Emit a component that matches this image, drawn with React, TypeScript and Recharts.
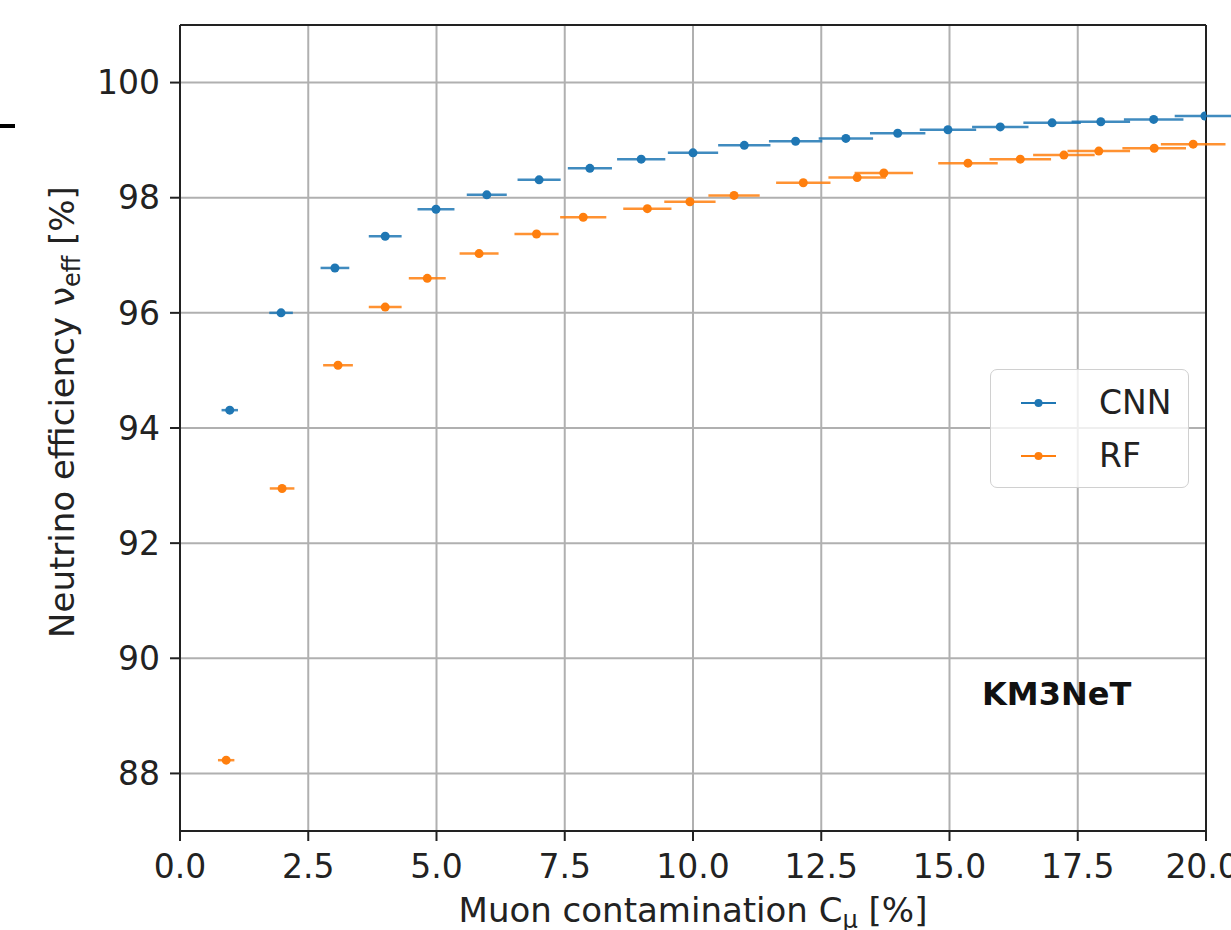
import { ScatterChart, Scatter, XAxis, YAxis, CartesianGrid, ErrorBar, ReferenceLine } from 'recharts';

const cnnX = [0.97, 1.97, 3.02, 4.0, 4.99, 5.98, 7.0, 7.99, 8.99, 10.0, 11.0, 12.0, 12.98, 13.99, 14.97, 15.99, 17.0, 17.95, 18.98, 19.98];
const cnnY = [94.31, 96.0, 96.78, 97.33, 97.8, 98.05, 98.31, 98.51, 98.67, 98.78, 98.91, 98.98, 99.03, 99.12, 99.18, 99.23, 99.3, 99.32, 99.36, 99.42];
const cnnErr = [0.16, 0.23, 0.28, 0.32, 0.36, 0.39, 0.42, 0.43, 0.47, 0.49, 0.51, 0.52, 0.53, 0.54, 0.55, 0.55, 0.56, 0.57, 0.58, 0.59];

const rfX = [0.9, 1.99, 3.08, 4.0, 4.82, 5.83, 6.95, 7.86, 9.11, 9.94, 10.8, 12.15, 13.2, 13.72, 15.36, 16.38, 17.23, 17.91, 18.99, 19.75];
const rfY = [88.23, 92.95, 95.09, 96.1, 96.6, 97.03, 97.37, 97.66, 97.81, 97.93, 98.04, 98.26, 98.35, 98.43, 98.6, 98.67, 98.74, 98.81, 98.86, 98.93];
const rfErr = [0.16, 0.24, 0.29, 0.32, 0.36, 0.38, 0.43, 0.45, 0.47, 0.5, 0.5, 0.53, 0.56, 0.57, 0.58, 0.6, 0.6, 0.61, 0.62, 0.63];

const xTicks = [0, 2.5, 5, 7.5, 10, 12.5, 15, 17.5, 20];
const yTicks = [88, 90, 92, 94, 96, 98, 100];

const BLUE = '#1f77b4';
const ORANGE = '#ff7f0e';
const TEXT = '#222';
const FONT = '"DejaVu Sans", sans-serif';

const cnnData = cnnX.map((x, i) => ({ x, y: cnnY[i], err: cnnErr[i] }));
const rfData = rfX.map((x, i) => ({ x, y: rfY[i], err: rfErr[i] }));

const dot = (color: string) => (props: any) => (
  <circle cx={props.cx} cy={props.cy} r={4.5} fill={color} />
);

function LegendBox() {
  const rows = [
    { name: 'CNN', color: BLUE },
    { name: 'RF', color: ORANGE },
  ];
  return (
    <div
      style={{
        position: 'absolute',
        left: 990,
        top: 369,
        width: 199,
        height: 119,
        border: '1.5px solid #d0d0d0',
        borderRadius: 7,
        background: 'rgba(255,255,255,0.8)',
        boxSizing: 'border-box',
        paddingTop: 6,
      }}
    >
      {rows.map((r) => (
        <div key={r.name} style={{ display: 'flex', alignItems: 'center', height: 53 }}>
          <svg width={100} height={20} style={{ flex: 'none' }}>
            <line x1={30} x2={65} y1={10} y2={10} stroke={r.color} strokeWidth={2} />
            <circle cx={47.5} cy={10} r={4} fill={r.color} />
          </svg>
          <span style={{ fontFamily: FONT, fontSize: 33, color: TEXT, marginLeft: 8 }}>{r.name}</span>
        </div>
      ))}
    </div>
  );
}

export default function App() {
  return (
    <div style={{ position: 'absolute', left: 0, top: 0, width: 1231, height: 930, background: '#fff', overflow: 'hidden' }}>
      <ScatterChart width={1231} height={930} margin={{ top: 25, right: 25, bottom: 0, left: 0 }}>
        <CartesianGrid stroke="#b0b0b0" strokeWidth={2} />
        <XAxis
          type="number"
          dataKey="x"
          domain={[0, 20]}
          ticks={xTicks}
          tickFormatter={(v: number) => v.toFixed(1)}
          allowDataOverflow
          height={99}
          tickSize={10}
          tickMargin={14}
          axisLine={{ stroke: TEXT, strokeWidth: 2 }}
          tickLine={{ stroke: TEXT, strokeWidth: 2 }}
          tick={{ fill: TEXT, fontSize: 33, fontFamily: FONT }}
        />
        <YAxis
          type="number"
          dataKey="y"
          domain={[87, 101]}
          ticks={yTicks}
          allowDataOverflow
          width={180}
          tickSize={10}
          tickMargin={10}
          axisLine={{ stroke: TEXT, strokeWidth: 2 }}
          tickLine={{ stroke: TEXT, strokeWidth: 2 }}
          tick={{ fill: TEXT, fontSize: 33, fontFamily: FONT }}
        />
        <ReferenceLine y={101} stroke={TEXT} strokeWidth={2} />
        <ReferenceLine x={20} stroke={TEXT} strokeWidth={2} />
        <Scatter name="CNN" data={cnnData} fill={BLUE} shape={dot(BLUE)} isAnimationActive={false}>
          <ErrorBar dataKey="err" direction="x" width={0} stroke={BLUE} strokeWidth={2.5} strokeOpacity={0.85} />
        </Scatter>
        <Scatter name="RF" data={rfData} fill={ORANGE} shape={dot(ORANGE)} isAnimationActive={false}>
          <ErrorBar dataKey="err" direction="x" width={0} stroke={ORANGE} strokeWidth={2.5} strokeOpacity={0.85} />
        </Scatter>
      </ScatterChart>
      <LegendBox />
      <svg width={1231} height={930} style={{ position: 'absolute', left: 0, top: 0, pointerEvents: 'none' }}>
        <rect x={0} y={124} width={15} height={4} fill="#000" />
        <text
          transform="translate(74,412) rotate(-90)"
          textAnchor="middle"
          fontFamily={FONT}
          fontSize={34}
          fill={TEXT}
        >
          Neutrino efficiency ν
          <tspan fontSize={24} dy={6}>eff</tspan>
          <tspan dy={-6}> [%]</tspan>
        </text>
        <text x={693} y={922} textAnchor="middle" fontFamily={FONT} fontSize={34} fill={TEXT}>
          Muon contamination C
          <tspan fontSize={24} dy={6}>μ</tspan>
          <tspan dy={-6}> [%]</tspan>
        </text>
        <text x={982} y={705} fontFamily={FONT} fontSize={32} fontWeight="bold" fill="#111">
          KM3NeT
        </text>
      </svg>
    </div>
  );
}
